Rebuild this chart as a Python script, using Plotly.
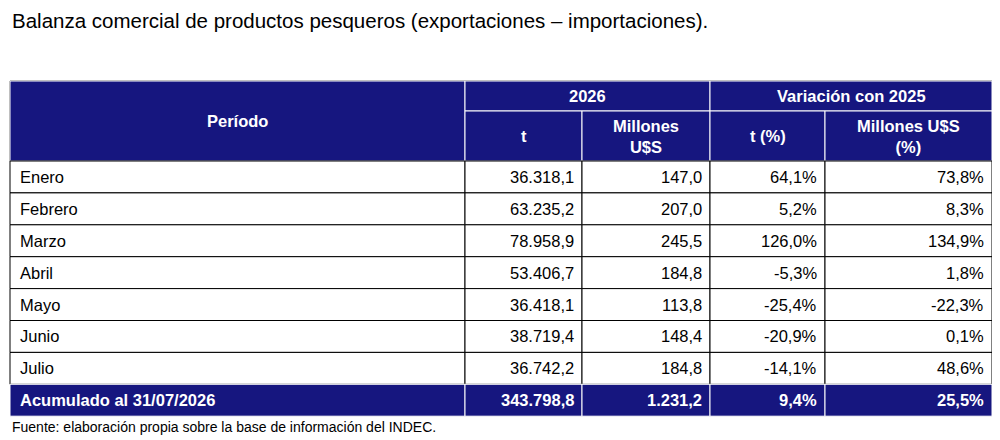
import plotly.graph_objects as go

meses = ["Enero", "Febrero", "Marzo", "Abril", "Mayo", "Junio", "Julio"]
toneladas = ["36.318,1", "63.235,2", "78.958,9", "53.406,7", "36.418,1", "38.719,4", "36.742,2"]
millones = ["147,0", "207,0", "245,5", "184,8", "113,8", "148,4", "184,8"]
var_t = ["64,1%", "5,2%", "126,0%", "-5,3%", "-25,4%", "-20,9%", "-14,1%"]
var_usd = ["73,8%", "8,3%", "134,9%", "1,8%", "-22,3%", "0,1%", "48,6%"]
total = ["Acumulado al 31/07/2026", "343.798,8", "1.231,2", "9,4%", "25,5%"]

titulo = "Balanza comercial de productos pesqueros (exportaciones – importaciones)."
fuente = "Fuente: elaboración propia sobre la base de información del INDEC."

# geometry (pixel-like axis units)
cols = [10, 465, 582, 710, 825, 992]
top, mid, hbot = 81, 111, 161
row_h = 31.9
navy = "#16167f"
font = "Liberation Sans, Arial"
off = 8  # page body margin compensation

fig = go.Figure()
shapes, ann = [], []

def rect(x0, y0, x1, y1, fill, line):
    shapes.append(dict(type="rect", x0=x0, y0=y0, x1=x1, y1=y1, fillcolor=fill,
                       line=dict(color=line, width=1), layer="below"))

def txt(x, y, s, anchor="center", color="black", bold=False, size=16.5):
    if bold:
        s = "<b>" + s.replace("<br>", "</b><br><b>") + "</b>"
    ann.append(dict(x=x, y=y, text=s, xanchor=anchor, yanchor="middle", showarrow=False,
                    font=dict(family=font, size=size, color=color)))

# header
rect(cols[0], top, cols[-1], hbot, navy, "black")
rect(cols[0], top, cols[1], hbot, navy, "white")
rect(cols[1], top, cols[3], mid, navy, "white")
rect(cols[3], top, cols[5], mid, navy, "white")
for i in range(1, 5):
    rect(cols[i], mid, cols[i + 1], hbot, navy, "white")
txt((cols[0] + cols[1]) / 2, (top + hbot) / 2, "Período", color="white", bold=True)
txt((cols[1] + cols[3]) / 2, (top + mid) / 2, "2026", color="white", bold=True)
txt((cols[3] + cols[5]) / 2, (top + mid) / 2, "Variación con 2025", color="white", bold=True)
sub = ["t", "Millones<br>U$S", "t (%)", "Millones U$S<br>(%)"]
for i, s in enumerate(sub):
    txt((cols[i + 1] + cols[i + 2]) / 2, (mid + hbot) / 2, s, color="white", bold=True)

# body
for r, vals in enumerate(zip(meses, toneladas, millones, var_t, var_usd)):
    y0 = hbot + r * row_h
    for c in range(5):
        rect(cols[c], y0, cols[c + 1], y0 + row_h, "white", "black")
        if c == 0:
            txt(cols[0] + 8, y0 + row_h / 2, vals[c], anchor="left")
        else:
            txt(cols[c + 1] - 6, y0 + row_h / 2, vals[c], anchor="right")

# total row
y0 = hbot + len(meses) * row_h
for c in range(5):
    rect(cols[c], y0, cols[c + 1], y0 + row_h, navy, "white")
    if c == 0:
        txt(cols[0] + 8, y0 + row_h / 2, total[c], anchor="left", color="white", bold=True)
    else:
        txt(cols[c + 1] - 6, y0 + row_h / 2, total[c], anchor="right", color="white", bold=True)

txt(10, 20, titulo, anchor="left", size=20.5)
txt(10, 427, fuente, anchor="left", size=14)

fig.update_layout(
    width=1000, height=440, margin=dict(l=0, r=0, t=0, b=0),
    plot_bgcolor="white", paper_bgcolor="white", shapes=shapes, annotations=ann,
    xaxis=dict(range=[off, 1000 + off], visible=False, fixedrange=True),
    yaxis=dict(range=[440 + off, off], visible=False, fixedrange=True),
)
fig.write_html("out.html")
